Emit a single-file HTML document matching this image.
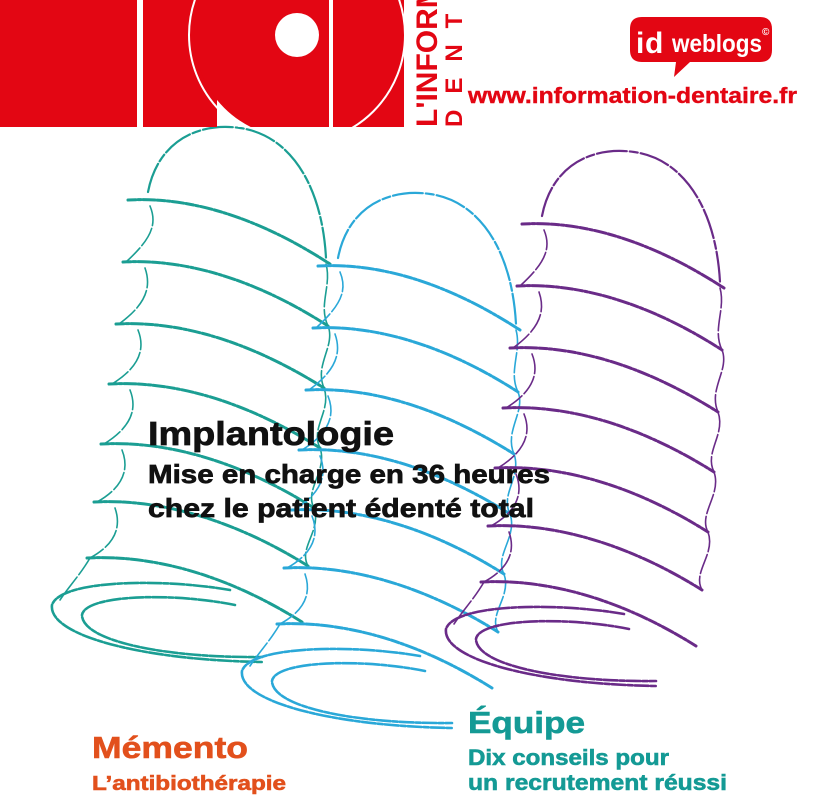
<!DOCTYPE html>
<html><head><meta charset="utf-8"><style>
html,body{margin:0;padding:0;background:#fff;}
svg{display:block;}
text{font-family:"Liberation Sans",sans-serif;font-weight:bold;}
</style></head><body>
<svg width="827" height="800" viewBox="0 0 827 800" xmlns="http://www.w3.org/2000/svg">
<defs>
<clipPath id="top"><rect x="0" y="0" width="827" height="127"/></clipPath>
<g id="imp" fill="none" stroke-linecap="round">
  <path d="M148,192 C158,140 200,122 240,128 C290,135 322,185 326,258" stroke-width="2.2" stroke-dasharray="30 3 8 3"/>
  <g stroke-width="3" stroke-dasharray="8 2 3 2 12 2">
    <path d="M128,200 C200,196 270,225 330,264"/>
    <path d="M123,262 C195,258 268,287 328,326"/>
    <path d="M116,324 C190,320 262,349 324,388"/>
    <path d="M109,384 C185,380 258,409 320,448"/>
    <path d="M101,444 C178,440 252,469 314,508"/>
    <path d="M94,502 C170,498 246,527 308,566"/>
    <path d="M87,558 C165,554 240,583 302,622"/>
  </g>
  <g stroke-width="1.6" stroke-dasharray="20 3">
    <path d="M150,206 C158,225 150,240 126,262"/>
    <path d="M145,268 C152,288 145,305 119,324"/>
    <path d="M138,330 C146,350 138,368 112,384"/>
    <path d="M130,390 C138,410 130,428 104,444"/>
    <path d="M122,450 C130,470 122,488 97,502"/>
    <path d="M115,508 C122,528 114,545 90,558"/>
    <path d="M326,264 C332,285 318,305 328,326"/>
    <path d="M328,326 C336,345 314,365 324,388"/>
    <path d="M324,388 C332,410 310,428 320,448"/>
    <path d="M320,448 C328,470 304,490 314,508"/>
    <path d="M314,508 C322,530 298,548 308,566"/>
    <path d="M90,558 C80,575 70,585 60,600"/>
  </g>
  <g stroke-width="2.6" stroke-dasharray="14 2 5 2">
    <path d="M230,590 C160,578 60,580 52,605 C48,635 140,660 262,662"/>
    <path d="M235,605 C170,592 85,595 82,615 C82,640 160,658 262,657"/>
  </g>
</g>
</defs>

<use href="#imp" stroke="#1b9e93"/>
<use href="#imp" stroke="#2aa8d8" transform="translate(190,66)"/>
<use href="#imp" stroke="#6a2b88" transform="translate(394,24)"/>

<!-- logo -->
<g clip-path="url(#top)">
  <rect x="0" y="0" width="137" height="127" fill="#e30613"/>
  <rect x="143" y="0" width="74" height="127" fill="#e30613"/>
  <circle cx="297" cy="35" r="103" fill="#e30613"/>
  <rect x="333" y="0" width="71" height="127" fill="#e30613"/>
  <rect x="329" y="0" width="4" height="127" fill="#fff"/>
  <circle cx="297" cy="35" r="108" fill="none" stroke="#fff" stroke-width="2"/>
  <circle cx="297" cy="35" r="22" fill="#fff"/>
</g>
<text transform="translate(437,127) rotate(-90)" font-size="30" fill="#e30613">L'INFORMATION</text>
<text transform="translate(462,127) rotate(-90)" font-size="24" fill="#e30613" letter-spacing="16">DENTAIRE</text>

<!-- weblogs -->
<path d="M642,17 H760 Q772,17 772,29 V50 Q772,62 760,62 H690 L674,77 L676,62 H642 Q630,62 630,50 V29 Q630,17 642,17 Z" fill="#e30613"/>
<text x="636" y="53" font-size="30" fill="#fff">i</text>
<text x="645" y="53" font-size="30" fill="#fff">d</text>
<text x="672" y="52" font-size="25" fill="#fff" textLength="90" lengthAdjust="spacingAndGlyphs">weblogs</text>
<text x="762" y="35" font-size="10" fill="#fff">©</text>
<text x="468" y="103" font-size="22" fill="#e30613" stroke="#e30613" stroke-width="0.4" textLength="329" lengthAdjust="spacingAndGlyphs">www.information-dentaire.fr</text>

<!-- main title -->
<g fill="#111" stroke="#111" stroke-width="0.7">
<text x="148" y="445" font-size="33" textLength="246" lengthAdjust="spacingAndGlyphs">Implantologie</text>
<text x="148" y="483" font-size="26" textLength="402" lengthAdjust="spacingAndGlyphs">Mise en charge en 36 heures</text>
<text x="148" y="517" font-size="26" textLength="386" lengthAdjust="spacingAndGlyphs">chez le patient édenté total</text>
</g>

<!-- bottom -->
<g fill="#e2501c" stroke="#e2501c" stroke-width="0.6">
<text x="92" y="758" font-size="31" textLength="156" lengthAdjust="spacingAndGlyphs">Mémento</text>
<text x="92" y="790" font-size="20" textLength="194" lengthAdjust="spacingAndGlyphs">L’antibiothérapie</text>
</g>
<g fill="#149a95" stroke="#149a95" stroke-width="0.6">
<text x="468" y="733" font-size="31" textLength="117" lengthAdjust="spacingAndGlyphs">Équipe</text>
<text x="468" y="765" font-size="22" textLength="201" lengthAdjust="spacingAndGlyphs">Dix conseils pour</text>
<text x="468" y="790" font-size="22" textLength="259" lengthAdjust="spacingAndGlyphs">un recrutement réussi</text>
</g>
</svg>
</body></html>
